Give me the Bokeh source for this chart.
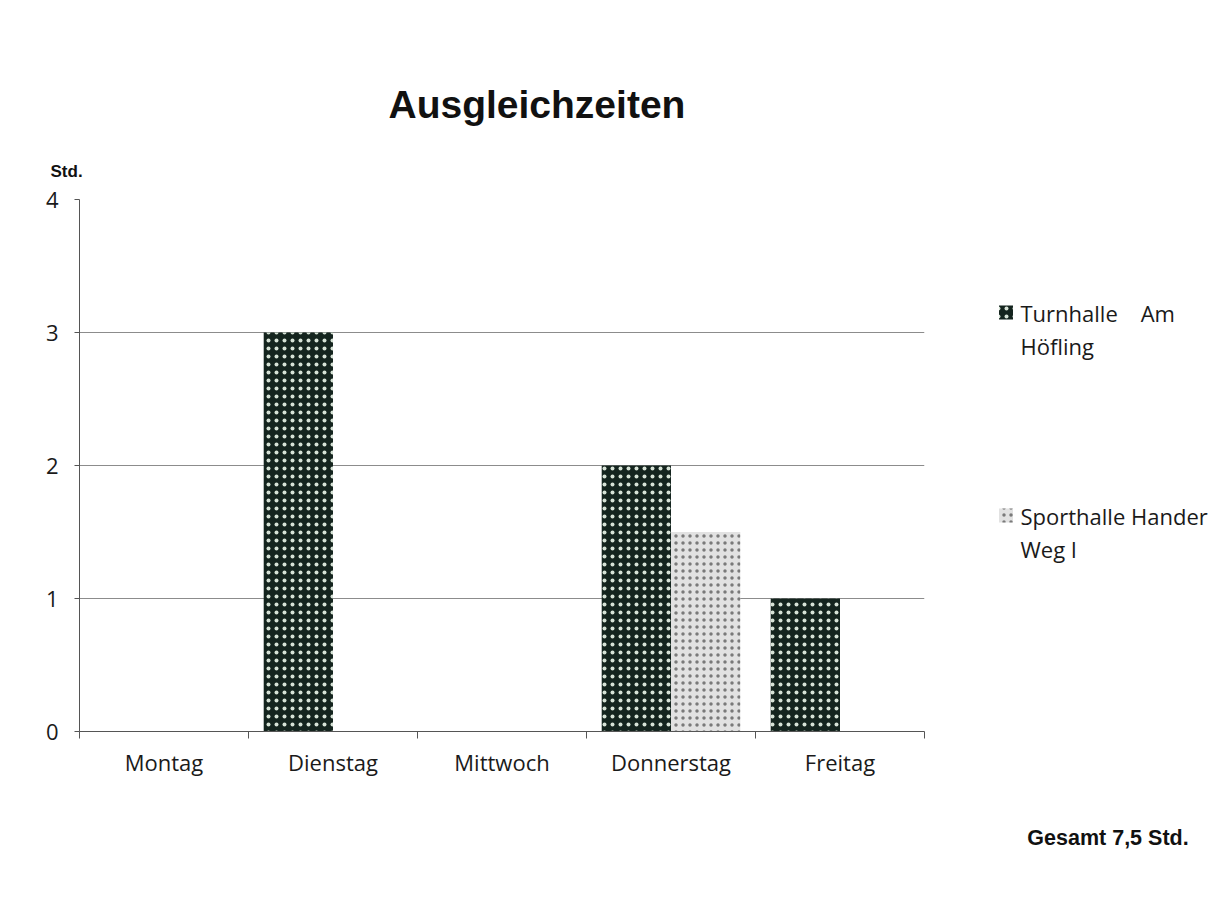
from bokeh.plotting import figure
from bokeh.layouts import row
from bokeh.models import Range1d, FixedTicker, Title, LinearAxis
from bokeh.core.properties import value
from bokeh.embed import file_html
from bokeh.resources import INLINE

days = ["Montag", "Dienstag", "Mittwoch", "Donnerstag", "Freitag"]
turnhalle = [0, 3, 0, 2, 1]
sporthalle = [0, 0, 0, 1.5, 0]
series_lines = [["Turnhalle\u00a0\u00a0\u00a0\u00a0Am", "Höfling"], ["Sporthalle Hander", "Weg I"]]
y_ticks = [0, 1, 2, 3, 4]
title_text = "Ausgleichzeiten"
unit_text = "Std."
total_text = "Gesamt 7,5 Std."

dark_style = dict(fill_color="#14241e", hatch_pattern="dot", hatch_color="#d6e2d6",
                  hatch_scale=8, hatch_weight=1.6)
light_style = dict(fill_color="#e2e2e2", hatch_pattern="dot", hatch_color="#7a7a7a",
                   hatch_scale=7, hatch_weight=1.4)

H = 890
MAIN_W, SIDE_W = 930, 285
FRAME_TOP, FRAME_BOTTOM = 199, 731
p = figure(width=MAIN_W, height=H, output_backend="svg", toolbar_location=None,
           x_range=Range1d(0, len(days)), y_range=Range1d(0, 4),
           min_border_left=79, min_border_right=MAIN_W - 924,
           min_border_top=FRAME_TOP, min_border_bottom=H - FRAME_BOTTOM)
p.outline_line_color = None
p.background_fill_color = "white"
p.border_fill_color = "white"

bw = 0.41
centers = [i + 0.5 for i in range(len(days))]
x_t = [c - bw / 2 for c in centers]
x_s = [c + bw / 2 for c in centers]

p.vbar(x=x_t, top=turnhalle, width=bw, bottom=0, line_color=None, **dark_style)
p.vbar(x=x_s, top=sporthalle, width=bw, bottom=0, line_color=None, **light_style)

p.xaxis.ticker = FixedTicker(ticks=centers, minor_ticks=list(range(len(days) + 1)))
p.xaxis.major_label_overrides = {c: d for c, d in zip(centers, days)}
p.xaxis.major_tick_line_color = None
p.xaxis.minor_tick_line_color = "#555555"
p.xaxis.minor_tick_out = 7
p.xaxis.minor_tick_in = 0
p.xaxis.axis_line_color = "#555555"
p.xaxis.major_label_standoff = 8
p.xaxis.major_label_text_font = "Open Sans"
p.xaxis.major_label_text_font_size = "22px"
p.xaxis.major_label_text_color = "#1a1a1a"

p.yaxis.ticker = FixedTicker(ticks=y_ticks)
p.yaxis.minor_tick_line_color = None
p.yaxis.major_tick_line_color = "#555555"
p.yaxis.major_tick_out = 5
p.yaxis.major_tick_in = 0
p.yaxis.axis_line_color = "#555555"
p.yaxis.major_label_standoff = 16
p.yaxis.major_label_text_font = "Open Sans"
p.yaxis.major_label_text_font_size = "22px"
p.yaxis.major_label_text_color = "#1a1a1a"

p.xgrid.grid_line_color = None
p.ygrid.grid_line_color = "#8c8c8c"
p.ygrid.grid_line_width = 1

p.add_layout(Title(text=unit_text, align="left", offset=-29, standoff=38,
                   text_font="Liberation Sans", text_font_style="bold",
                   text_font_size="17px", text_color="#111111"), "above")
p.add_layout(Title(text=title_text, align="left", offset=309, standoff=29,
                   text_font="Liberation Sans", text_font_style="bold",
                   text_font_size="39px", text_color="#111111"), "above")

# side panel: legend (pixel-like coordinates) and the total below it
s = figure(width=SIDE_W, height=H, output_backend="svg", toolbar_location=None,
           x_range=Range1d(MAIN_W, MAIN_W + SIDE_W),
           y_range=Range1d(FRAME_BOTTOM, FRAME_TOP),
           x_axis_type=None, y_axis_type=None,
           min_border_left=0, min_border_right=0,
           min_border_top=FRAME_TOP, min_border_bottom=H - FRAME_BOTTOM)
s.outline_line_color = None
s.xgrid.grid_line_color = None
s.ygrid.grid_line_color = None
s.background_fill_color = "white"
s.border_fill_color = "white"

sq_x = 1005.5
sq_y = [312, 515]
s.rect(x=[sq_x], y=[sq_y[0]], width=14, height=14, line_color=None, **dark_style)
s.rect(x=[sq_x], y=[sq_y[1]], width=14, height=14, line_color=None, **light_style)

line_gap = 33
for lines, y0 in zip(series_lines, sq_y):
    s.text(x=[1020] * len(lines), y=[y0 + i * line_gap for i in range(len(lines))],
           text=lines, text_baseline="middle", text_align="left",
           text_font=value("Open Sans"), text_font_size="22px", text_color="#1a1a1a")

total_x = 1107.5
total_axis = LinearAxis(ticker=FixedTicker(ticks=[total_x], minor_ticks=[]),
                        major_label_overrides={total_x: total_text},
                        axis_line_color=None, major_tick_line_color=None,
                        minor_tick_line_color=None, major_tick_out=0, major_tick_in=0,
                        major_label_standoff=94,
                        major_label_text_font="Liberation Sans",
                        major_label_text_font_style="bold",
                        major_label_text_font_size="21.5px",
                        major_label_text_color="#111111")
s.add_layout(total_axis, "below")

layout = row(p, s, spacing=0)
open("out.html", "w").write(file_html(layout, INLINE))
